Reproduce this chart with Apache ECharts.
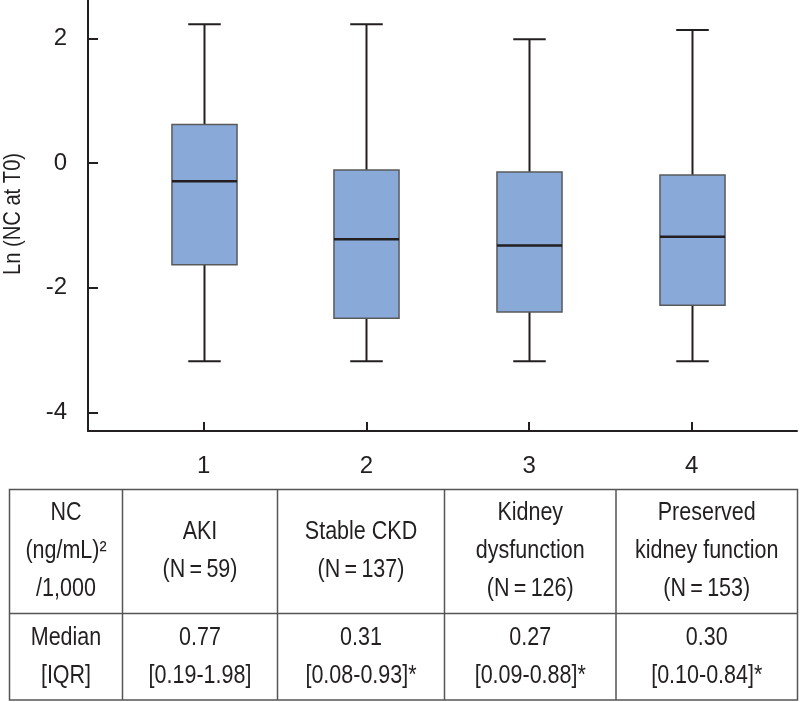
<!DOCTYPE html>
<html>
<head>
<meta charset="utf-8">
<script src="https://cdn.jsdelivr.net/npm/echarts@6/dist/echarts.min.js"></script>
<style>
html,body{margin:0;padding:0;background:#fff;}
#chart{width:800px;height:702px;}
</style>
</head>
<body>
<div id="chart"></div>
<script>
// ---- data ----
const categories = [1, 2, 3, 4];
const whiskerLow = [-3.18, -3.18, -3.18, -3.18];
const q1Ln = [-1.63, -2.49, -2.39, -2.28];
const medianLn = [-0.29, -1.22, -1.32, -1.18];
const q3Ln = [0.62, -0.11, -0.14, -0.19];
const whiskerHigh = [2.23, 2.23, 1.99, 2.14];
const yTicks = [-4, -2, 0, 2];
const yTitle = 'Ln (NC at T0)';

// table texts
const rowHeader = ['NC\n(ng/mL)\u00b2\n/1,000', 'Median\n[IQR]'];
const groupNames = ['AKI', 'Stable CKD', 'Kidney\ndysfunction', 'Preserved\nkidney function'];
const groupN = [59, 137, 126, 153];
const medianNC = ['0.77', '0.31', '0.27', '0.30'];
const iqrNC = ['[0.19-1.98]', '[0.08-0.93]*', '[0.09-0.88]*', '[0.10-0.84]*'];

// ---- style ----
const FONT = '"Liberation Sans Narrow", "Liberation Sans", Arial, sans-serif';
const INK = '#231f20';
const FS = 24;
const TFS = 25;

const boxData = categories.map((c, i) => [c, whiskerLow[i], q1Ln[i], medianLn[i], q3Ln[i], whiskerHigh[i]]);

// table layout (pixels)
const tLeft = 9.5, tRight = 797.5, tTop = 489.5, tMid = 613.5, tBottom = 700;
const colX = [tLeft, 122.5, 277.5, 444.5, 616, tRight];
const graphics = [];
graphics.push({type: 'rect', shape: {x: tLeft, y: tTop, width: tRight - tLeft, height: tBottom - tTop},
  style: {fill: 'none', stroke: '#555', lineWidth: 1.5}, silent: true});
graphics.push({type: 'line', shape: {x1: tLeft, y1: tMid, x2: tRight, y2: tMid},
  style: {stroke: '#555', lineWidth: 1.5}, silent: true});
for (let k = 1; k < colX.length - 1; k++) {
  graphics.push({type: 'line', shape: {x1: colX[k], y1: tTop, x2: colX[k], y2: tBottom},
    style: {stroke: '#555', lineWidth: 1.5}, silent: true});
}
function cellText(txt, col, rowTop, rowBot) {
  return {type: 'text', x: (colX[col] + colX[col + 1]) / 2, y: (rowTop + rowBot) / 2, silent: true,
    scaleX: 0.86,
    style: {text: txt, fill: INK, font: TFS + 'px ' + FONT, align: 'center', verticalAlign: 'middle', lineHeight: 38}};
}
graphics.push(cellText(rowHeader[0], 0, tTop, tMid));
graphics.push(cellText(rowHeader[1], 0, tMid, tBottom));
groupNames.forEach((g, i) => {
  graphics.push(cellText(g + '\n(N\u2009=\u2009' + groupN[i] + ')', i + 1, tTop, tMid));
  graphics.push(cellText(medianNC[i] + '\n' + iqrNC[i], i + 1, tMid, tBottom));
});
// rotated y-axis title (condensed look)
graphics.push({type: 'text', x: 13, y: 214, rotation: Math.PI / 2, scaleX: 0.84, silent: true,
  style: {text: yTitle, fill: INK, font: '24px ' + FONT, align: 'center', verticalAlign: 'middle'}});

const chart = echarts.init(document.getElementById('chart'));
const option = {
  backgroundColor: '#fff',
  animation: false,
  grid: {left: 88, right: 3, top: 0, bottom: 271, containLabel: false, outerBoundsMode: 'none'},
  xAxis: {
    type: 'value', min: 0.289, max: 4.647,
    axisLine: {show: true, onZero: false, lineStyle: {color: INK, width: 2}},
    axisTick: {show: true, inside: true, length: 9, customValues: categories, lineStyle: {color: INK, width: 2}},
    axisLabel: {customValues: categories, margin: 23, color: INK, fontSize: FS, fontFamily: FONT},
    splitLine: {show: false}
  },
  yAxis: {
    type: 'value', min: -4.30, max: 2.62,
    axisLine: {show: true, onZero: false, lineStyle: {color: INK, width: 2}},
    axisTick: {show: true, inside: true, length: 10, customValues: yTicks, lineStyle: {color: INK, width: 2}},
    axisLabel: {customValues: yTicks, margin: 21, color: INK, fontSize: FS, fontFamily: FONT},
    splitLine: {show: false}
  },
  series: [{
    type: 'custom',
    data: boxData,
    encode: {x: 0, y: [1, 2, 3, 4, 5]},
    renderItem: function (params, api) {
      const x = api.value(0);
      const band = api.size([1, 0])[0];
      const bw = band * 0.4, cw = band * 0.2;
      const pLow = api.coord([x, api.value(1)]);
      const pQ1 = api.coord([x, api.value(2)]);
      const pMed = api.coord([x, api.value(3)]);
      const pQ3 = api.coord([x, api.value(4)]);
      const pHigh = api.coord([x, api.value(5)]);
      const cx = Math.round(pLow[0]) + 0.5;
      const ws = {stroke: INK, lineWidth: 2};
      return {type: 'group', children: [
        {type: 'line', shape: {x1: cx, y1: pHigh[1], x2: cx, y2: pQ3[1]}, style: ws},
        {type: 'line', shape: {x1: cx, y1: pQ1[1], x2: cx, y2: pLow[1]}, style: ws},
        {type: 'line', shape: {x1: cx - cw / 2, y1: pHigh[1], x2: cx + cw / 2, y2: pHigh[1]}, style: ws},
        {type: 'line', shape: {x1: cx - cw / 2, y1: pLow[1], x2: cx + cw / 2, y2: pLow[1]}, style: ws},
        {type: 'rect', shape: {x: cx - bw / 2, y: pQ3[1], width: bw, height: pQ1[1] - pQ3[1]},
          style: {fill: '#89aad8', stroke: '#58595b', lineWidth: 1.5}},
        {type: 'line', shape: {x1: cx - bw / 2, y1: pMed[1], x2: cx + bw / 2, y2: pMed[1]},
          style: {stroke: INK, lineWidth: 2.5}}
      ]};
    }
  }],
  graphic: graphics
};
chart.setOption(option);
</script>
</body>
</html>
